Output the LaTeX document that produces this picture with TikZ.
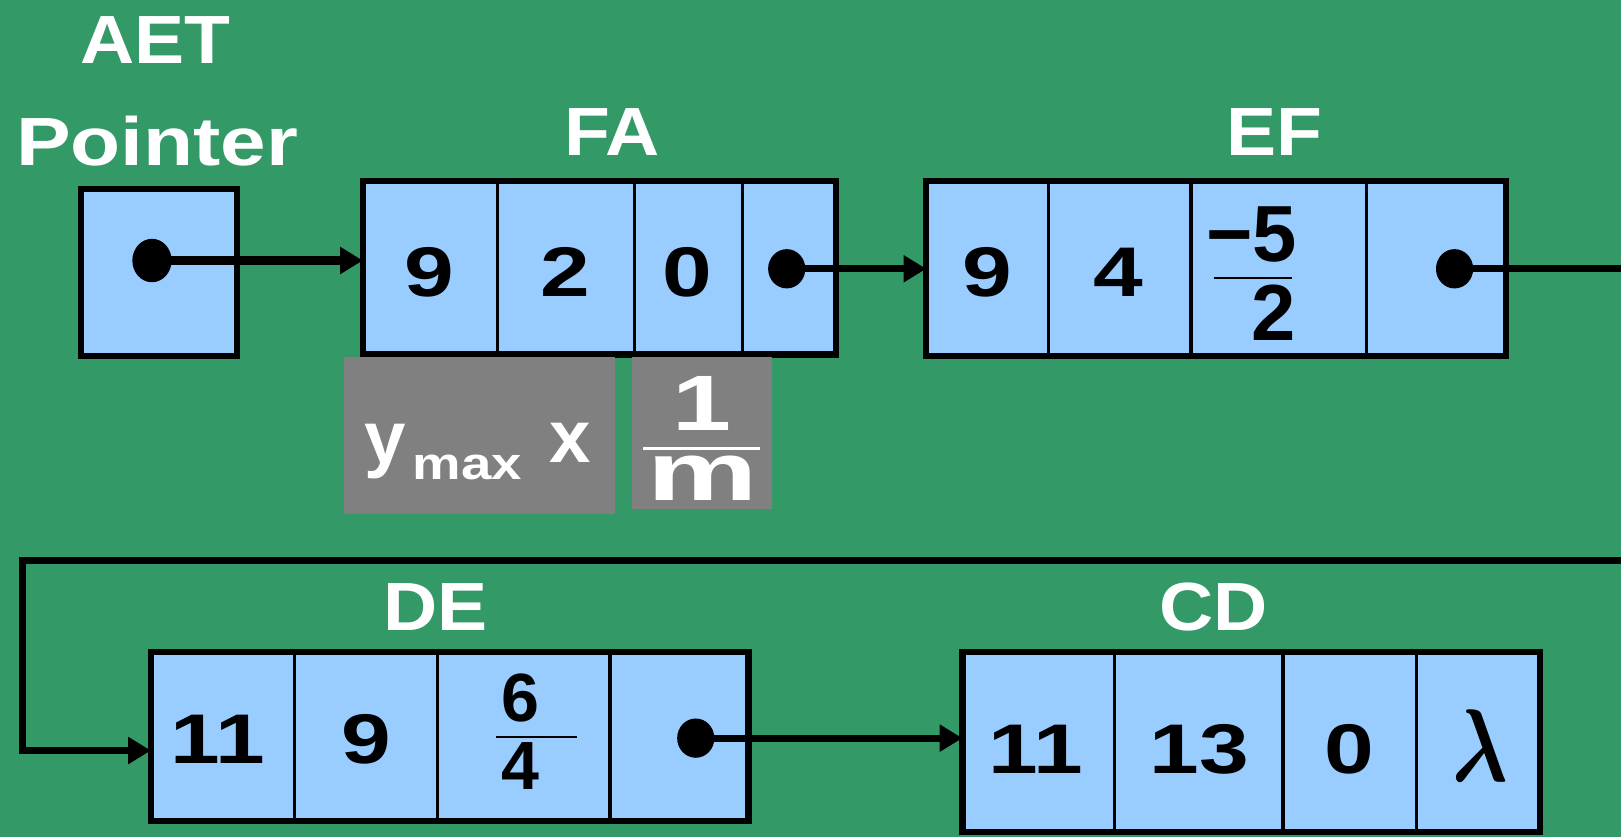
\RequirePackage{fix-cm}
\documentclass[tikz,border=0pt]{standalone}
\usepackage{graphicx}
\usepackage{bm}
\usepackage{fontspec}
\setmainfont{Liberation Sans}
\newfontfamily\labfont[FakeStretch=1.1]{Liberation Sans}
\newfontfamily\ptrfont[FakeStretch=1.2]{Liberation Sans}
\newfontfamily\digfont[FakeStretch=1.27]{Liberation Sans}
\newfontfamily\widefont[FakeStretch=1.35]{Liberation Sans}
\newfontfamily\mfont[FakeStretch=1.5]{Liberation Sans}
\newfontfamily\subfont[FakeStretch=1.2]{Liberation Sans}
\usetikzlibrary{arrows.meta,calc,shapes.geometric}
\definecolor{bggreen}{RGB}{51,153,102}
\definecolor{cellblue}{RGB}{153,204,255}
\definecolor{labgray}{RGB}{128,128,128}
\tikzset{
  cell/.style={draw=black, line width=3pt, fill=cellblue, inner sep=0pt, outer sep=0pt},
  outerbox/.style={draw=black, line width=6pt, line join=miter},
  title/.style={text=white, font=\labfont\bfseries\fontsize{66}{70}\selectfont, inner sep=0pt, anchor=base},
  val/.style={text=black, font=\digfont\bfseries\fontsize{68}{72}\selectfont, inner sep=0pt, anchor=base},
  fracnum/.style={text=black, font=\bfseries\fontsize{77}{80}\selectfont, inner sep=0pt, anchor=base},
  smallfrac/.style={text=black, font=\bfseries\fontsize{66}{70}\selectfont, inner sep=0pt, anchor=base},
  dotnode/.style={ellipse, fill=black, inner sep=0pt, minimum width=36pt, minimum height=38pt},
  link/.style={draw=black, line width=6.5pt, line join=miter, -{Triangle[length=22pt,width=25pt]}},
  wire/.style={draw=black, line width=6.5pt, line join=miter},
  graybox/.style={fill=labgray, inner sep=0pt, outer sep=0pt},
  graytext/.style={text=white, inner sep=0pt},
}
\newcommand\cellat[5]{\node[cell, minimum width={#3-#2}, minimum height={#5-#4}] (#1) at ({(#2+#3)/2},{(#4+#5)/2}) {};}
\begin{document}
\begin{tikzpicture}[x=1pt,y=-1pt]
\useasboundingbox (0,0) rectangle (1568,810);
\fill[bggreen] (0,0) rectangle (1568,810);

% titles
\node[title] (tAET) at (150,61) {AET};
\node[title, font=\ptrfont\bfseries\fontsize{66}{70}\selectfont] (tPtr) at (152,160) {Pointer};
\node[title] (tFA) at (592,150) {FA};
\node[title] (tEF) at (1233,150) {EF};
\node[title] (tDE) at (421,610) {DE};
\node[title] (tCD) at (1174,610) {CD};

% pointer box
\cellat{P}{78}{229}{183}{344}
\draw[outerbox] (P.north west) rectangle (P.south east);

% FA record
\cellat{FA1}{351}{481}{175}{343}
\cellat{FA2}{481}{614}{175}{343}
\cellat{FA3}{614}{718}{175}{343}
\cellat{FA4}{718}{809}{175}{343}
\draw[outerbox] (FA1.north west) rectangle (FA4.south east);

% EF record
\cellat{EF1}{896}{1014}{175}{344}
\cellat{EF2}{1014}{1152}{175}{344}
\cellat{EF3}{1152}{1322}{175}{344}
\cellat{EF4}{1322}{1457}{175}{344}
\draw[outerbox] (EF1.north west) rectangle (EF4.south east);

% DE record
\cellat{DE1}{146}{285}{631}{794}
\cellat{DE2}{285}{423}{631}{794}
\cellat{DE3}{423}{590}{631}{794}
\cellat{DE4}{590}{724}{631}{794}
\draw[outerbox] (DE1.north west) rectangle (DE4.south east);

% CD record
\cellat{CD1}{931}{1078}{631}{805}
\cellat{CD2}{1078}{1241}{631}{805}
\cellat{CD3}{1241}{1370}{631}{805}
\cellat{CD4}{1370}{1490}{631}{805}
\draw[outerbox] (CD1.north west) rectangle (CD4.south east);

% values
\node[val] (vFA1) at (415,287) {9};
\node[val] (vFA2) at (547,287) {2};
\node[val] (vFA3) at (665,287) {0};
\node[val] (vEF1) at (955,287) {9};
\node[val] (vEF2) at (1082,287) {4};
\node[fracnum, anchor=base east] (vEF3n) at (1255,253) {−5};
\node[fracnum] (vEF3d) at (1232,329) {2};
\draw[line width=2pt] (1174,269) -- (1250,269);
\node[val] (vDE1) at (211,739) {11};
\node[val] (vDE2) at (354,739) {9};
\node[smallfrac] (vDE3n) at (503,698) {6};
\node[smallfrac] (vDE3d) at (503,764) {4};
\draw[line width=2pt] (480,713) -- (558,713);
\node[val] (vCD1) at (1002,748) {11};
\node[val] (vCD2) at (1160,748) {13};
\node[val] (vCD3) at (1305,748) {0};
\node[text=black, font=\fontsize{100}{100}\selectfont, inner sep=0pt, anchor=base] (vCD4) at (1432,756) {\scalebox{0.8}[1]{$\bm{\lambda}$}};

% dots
\node[dotnode, minimum width=38pt, minimum height=42pt] (pdot) at (147,252) {};
\node[dotnode] (FAdot) at (761,260) {};
\node[dotnode] (EFdot) at (1407,260) {};
\node[dotnode] (DEdot) at (673,714) {};

% connectors
\draw[link, line width=8pt] (pdot.center) -- (pdot.center -| FA1.west);
\draw[link] (FAdot.center) -- (FAdot.center -| EF1.west);
\coordinate (EFout) at (1568,260);
\draw[wire] (EFdot.center) -- (EFout);
\coordinate (retR) at (1568,542);
\coordinate (retL) at (22,542);
\coordinate (retB) at (22,726);
\draw[link] (retR) -- (retL) -- (retB) -- (retB -| DE1.west);
\draw[link] (DEdot.center) -- (DEdot.center -| CD1.west);

% gray legend boxes
\node[graybox, minimum width=262pt, minimum height=152pt] (gb1) at (464,421) {};
\node[graybox, minimum width=136pt, minimum height=147pt] (gb2) at (679,418.5) {};
\node[graytext, anchor=base west, font=\bfseries\fontsize{72}{72}\selectfont] (ty) at (352,448) {y};
\node[graytext, anchor=base west, font=\subfont\bfseries\fontsize{44}{44}\selectfont] (tmax) at (399,464) {max};
\node[graytext, anchor=base, font=\bfseries\fontsize{72}{72}\selectfont] (tx) at (552,447) {x};
\node[graytext, anchor=base, font=\widefont\bfseries\fontsize{76}{76}\selectfont] (tone) at (679,416) {1};
\node[graytext, anchor=base, font=\mfont\bfseries\fontsize{80}{80}\selectfont] (tm) at (680,484) {m};
\draw[white, line width=3pt] (622,434) -- (735,434);
\end{tikzpicture}
\end{document}
